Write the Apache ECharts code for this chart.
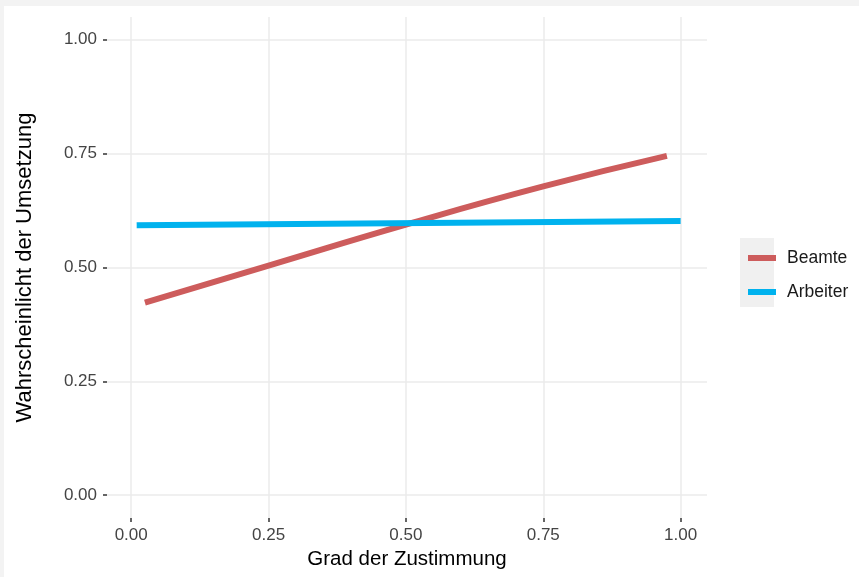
<!DOCTYPE html>
<html>
<head>
<meta charset="utf-8">
<script src="https://cdn.jsdelivr.net/npm/echarts@6/dist/echarts.min.js"></script>
<style>
html,body{margin:0;padding:0;background:#fff;}
#c{width:859px;height:577px;}
</style>
</head>
<body>
<div id="c"></div>
<script>
// Data
const seriesNames = ['Beamte', 'Arbeiter'];
const beamteX = [0.025, 0.25, 0.5, 0.75, 0.975];
const beamteY = [0.423, 0.504, 0.594, 0.678, 0.745];
const arbeiterX = [0.01, 1.0];
const arbeiterY = [0.593, 0.602];
const tickValues = [0, 0.25, 0.5, 0.75, 1];
const xTitle = 'Grad der Zustimmung';
const yTitle = 'Wahrscheinlicht der Umsetzung';

const colors = ['#CD5C5C', '#00B2EE'];
const font = 'Liberation Sans, Arial, sans-serif';

function pairs(xs, ys) { return xs.map((x, i) => [x, ys[i]]); }

const axisCommon = {
  type: 'value',
  nameLocation: 'middle',
  axisLine: { show: false, onZero: false },
  axisTick: { show: true, inside: false, length: 4, customValues: tickValues, lineStyle: { color: '#333', width: 1.5 } },
  axisLabel: { customValues: tickValues, fontFamily: font, fontSize: 17, color: '#444', formatter: v => v.toFixed(2) },
  splitLine: { show: true, lineStyle: { color: '#ebebeb', width: 1.5 } }
};

const chart = echarts.init(document.getElementById('c'));
chart.setOption({
  animation: false,
  backgroundColor: '#fff',
  graphic: [
    { type: 'rect', z: -10, shape: { x: 0, y: 0, width: 859, height: 6 }, style: { fill: '#f3f3f3' } },
    { type: 'rect', z: -10, shape: { x: 0, y: 0, width: 4, height: 577 }, style: { fill: '#f3f3f3' } },
    { type: 'rect', z: -10, shape: { x: 740, y: 238, width: 34, height: 69 }, style: { fill: '#f0f0f0' } }
  ],
  grid: { left: 107, right: 152, top: 17, bottom: 59, containLabel: false },
  xAxis: Object.assign({}, axisCommon, {
    min: -0.044, max: 1.048,
    name: xTitle, nameGap: 31,
    nameTextStyle: { fontFamily: font, fontSize: 20.5, color: '#000' },
    axisLabel: Object.assign({}, axisCommon.axisLabel, { margin: 9 })
  }),
  yAxis: Object.assign({}, axisCommon, {
    min: -0.05, max: 1.05,
    name: yTitle, nameGap: 71, nameRotate: 90,
    nameTextStyle: { fontFamily: font, fontSize: 22, color: '#000' },
    axisLabel: Object.assign({}, axisCommon.axisLabel, { margin: 10 })
  }),
  legend: {
    orient: 'vertical',
    left: 743, top: 244,
    icon: 'rect', itemWidth: 28, itemHeight: 6, itemGap: 16,
    textStyle: { fontFamily: font, fontSize: 17.5, color: '#1a1a1a', padding: [0, 0, 0, 6] },
    data: seriesNames
  },
  series: [
    { name: seriesNames[0], type: 'line', data: pairs(beamteX, beamteY), smooth: true, showSymbol: false, symbol: 'none',
      lineStyle: { color: colors[0], width: 6, cap: 'butt' }, itemStyle: { color: colors[0] } },
    { name: seriesNames[1], type: 'line', data: pairs(arbeiterX, arbeiterY), showSymbol: false, symbol: 'none',
      lineStyle: { color: colors[1], width: 6, cap: 'butt' }, itemStyle: { color: colors[1] } }
  ]
});
</script>
</body>
</html>
